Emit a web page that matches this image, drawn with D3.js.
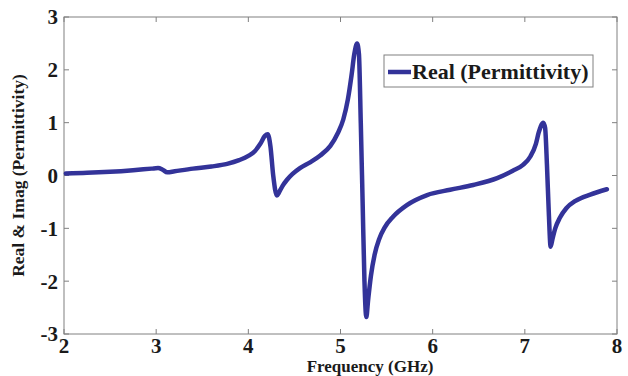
<!DOCTYPE html>
<html><head><meta charset="utf-8">
<script src="https://cdn.jsdelivr.net/npm/d3@7"></script>
<style>body{margin:0;background:#fff}svg{display:block}</style>
</head><body>
<script>
const freq = [2.02,2.25,2.5,2.75,2.95,3.02,3.07,3.12,3.2,3.4,3.6,3.77,3.9,4.0,4.07,4.13,4.18,4.21,4.24,4.27,4.31,4.33,4.37,4.42,4.48,4.56,4.67,4.78,4.89,4.97,5.03,5.08,5.12,5.15,5.18,5.2,5.22,5.24,5.26,5.28,5.30,5.33,5.37,5.42,5.48,5.57,5.72,5.94,6.19,6.44,6.7,6.87,6.98,7.06,7.12,7.15,7.2,7.22,7.24,7.26,7.28,7.30,7.33,7.38,7.45,7.55,7.71,7.89];
const realPerm = [0.04,0.05,0.07,0.10,0.13,0.14,0.11,0.06,0.08,0.13,0.17,0.22,0.29,0.37,0.46,0.60,0.75,0.78,0.55,0.0,-0.38,-0.33,-0.2,-0.08,0.03,0.14,0.25,0.38,0.56,0.8,1.06,1.44,1.9,2.3,2.5,2.3,1.0,-0.5,-2.0,-2.68,-2.35,-1.9,-1.5,-1.2,-0.98,-0.78,-0.56,-0.37,-0.27,-0.18,-0.05,0.09,0.2,0.36,0.6,0.81,1.0,0.9,0.2,-0.7,-1.35,-1.2,-1.0,-0.8,-0.62,-0.48,-0.36,-0.26];
const xTicks = [2,3,4,5,6,7,8];
const yTicks = [-3,-2,-1,0,1,2,3];
const seriesName = "Real (Permittivity)";
const xLabel = "Frequency (GHz)";
const yLabel = "Real & Imag (Permittivity)";

const W = 628, H = 376;
const m = {l:64, t:17, r:W-617, b:H-334};
const svg = d3.select("body").append("svg").attr("width",W).attr("height",H)
  .style("font-family","'Liberation Serif','Times New Roman',serif").style("font-weight","bold");
const x = d3.scaleLinear().domain([2,8]).range([m.l, W-m.r]);
const y = d3.scaleLinear().domain([-3,3]).range([H-m.b, m.t]);
const axCol = "#808080", tl = 5;

svg.append("rect").attr("x",x(2)).attr("y",y(3)).attr("width",x(8)-x(2)).attr("height",y(-3)-y(3))
  .attr("fill","none").attr("stroke",axCol).attr("stroke-width",1);

const g = svg.append("g");
xTicks.forEach(t=>{
  g.append("line").attr("x1",x(t)).attr("x2",x(t)).attr("y1",y(-3)).attr("y2",y(-3)-tl).attr("stroke",axCol);
  g.append("line").attr("x1",x(t)).attr("x2",x(t)).attr("y1",y(3)).attr("y2",y(3)+tl).attr("stroke",axCol);
  g.append("text").attr("x",x(t)).attr("y",y(-3)+19).attr("text-anchor","middle")
    .attr("font-size",21).attr("fill","#1a1a1a").text(t);
});
yTicks.forEach(t=>{
  g.append("line").attr("x1",x(2)).attr("x2",x(2)+tl).attr("y1",y(t)).attr("y2",y(t)).attr("stroke",axCol);
  g.append("line").attr("x1",x(8)).attr("x2",x(8)-tl).attr("y1",y(t)).attr("y2",y(t)).attr("stroke",axCol);
  g.append("text").attr("x",x(2)-6).attr("y",y(t)).attr("dy","0.35em").attr("text-anchor","end")
    .attr("font-size",21).attr("fill","#1a1a1a").text(t);
});

const data = freq.map((f,i)=>[f, realPerm[i]]);
svg.append("path").datum(data).attr("fill","none").attr("stroke","#333399").attr("stroke-width",4.5)
  .attr("stroke-linejoin","round").attr("stroke-linecap","round")
  .attr("d", d3.line().x(d=>x(d[0])).y(d=>y(d[1])).curve(d3.curveMonotoneX));

svg.append("text").attr("x",370).attr("y",372).attr("text-anchor","middle")
  .attr("font-size",17).attr("fill","#1a1a1a").text(xLabel);
svg.append("text").attr("transform",`translate(24,${(y(3)+y(-3))/2}) rotate(-90)`).attr("text-anchor","middle")
  .attr("font-size",17.5).attr("fill","#1a1a1a").text(yLabel);

const lg = svg.append("g");
lg.append("rect").attr("x",384).attr("y",55).attr("width",209).attr("height",32)
  .attr("fill","#fff").attr("stroke",axCol).attr("stroke-width",1);
lg.append("line").attr("x1",388).attr("x2",411).attr("y1",72).attr("y2",72).attr("stroke","#333399").attr("stroke-width",4.5);
lg.append("text").attr("x",412).attr("y",79).attr("font-size",22).attr("fill","#1a1a1a").text(seriesName);
</script>
</body></html>
